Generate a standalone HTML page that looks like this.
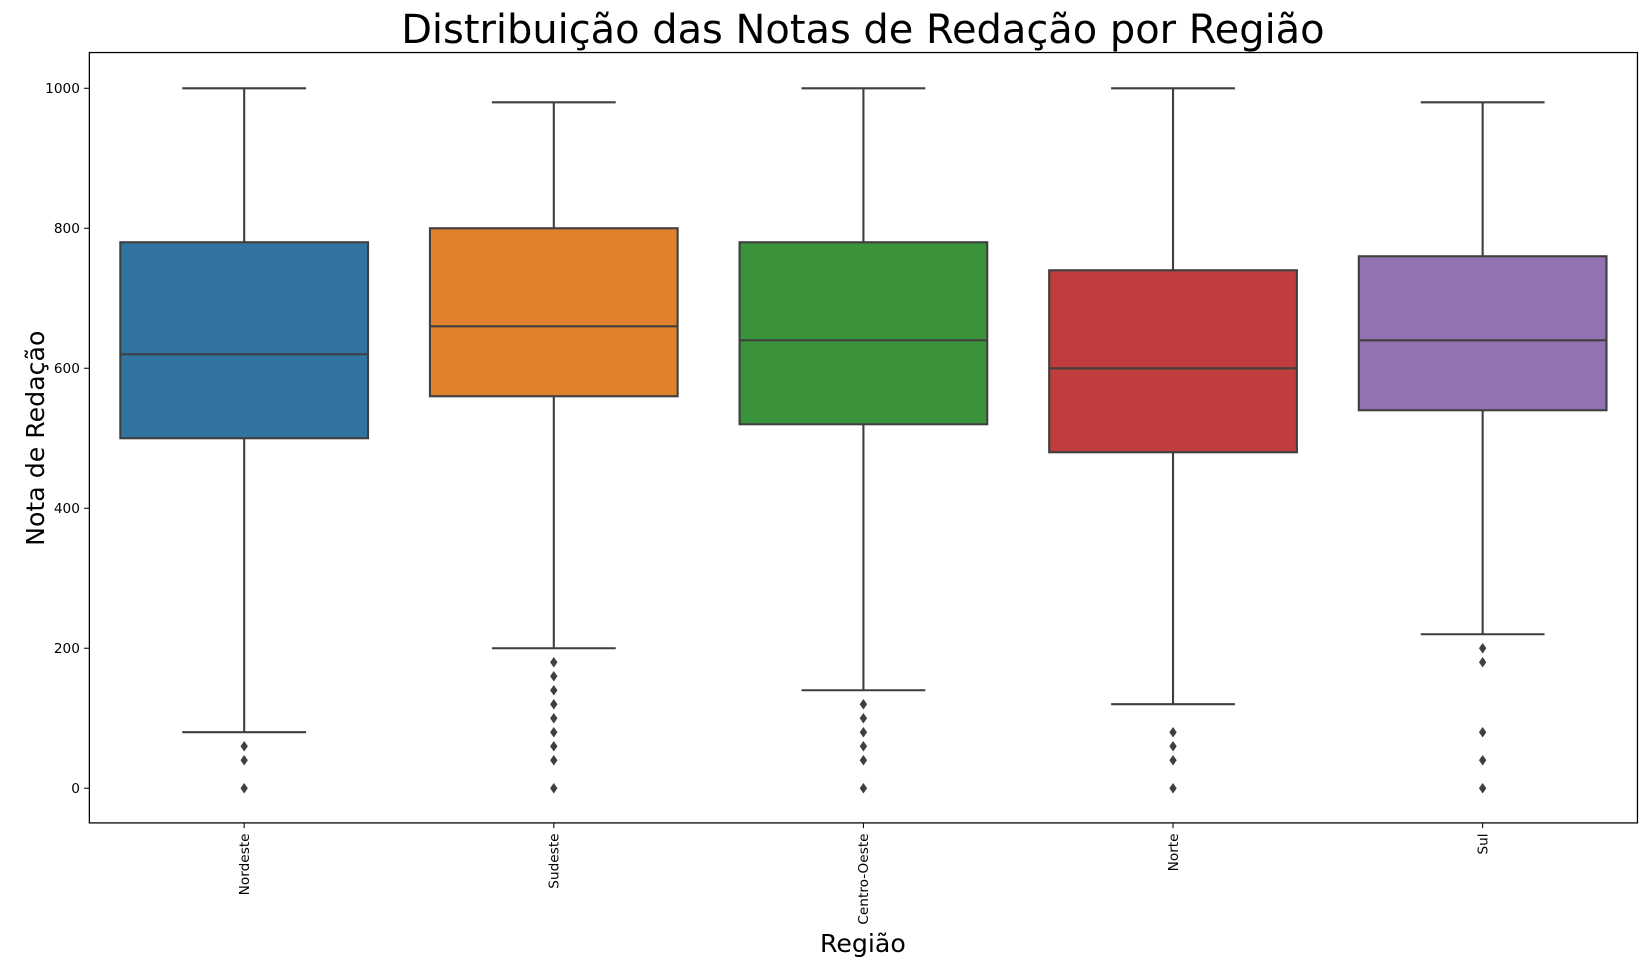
<!DOCTYPE html>
<html><head><meta charset="utf-8"><style>
body{margin:0;background:#fff;}
svg{font-family:"DejaVu Sans","Liberation Sans",sans-serif;display:block;}
</style></head><body>
<svg id="chart" width="1648" height="969" viewBox="0 0 1568 922">
<text x="821" y="41" font-size="38" text-anchor="middle" fill="#000">Distribuição das Notas de Redação por Região</text>
<text x="821" y="906" font-size="24" text-anchor="middle">Região</text>
<text transform="translate(42,417) rotate(-90)" font-size="24" text-anchor="middle">Nota de Redação</text>
<g id="plot"></g>
<rect x="85" y="50" width="1473" height="733" fill="none" stroke="#000" stroke-width="1.2"/>
</svg>
<script>
const categories=["Nordeste","Sudeste","Centro-Oeste","Norte","Sul"];
const q1s=[500,560,520,480,540];
const medians=[620,660,640,600,640];
const q3s=[780,800,780,740,760];
const whiskLow=[80,200,140,120,220];
const whiskHigh=[1000,980,1000,1000,980];
const outliers=[[0,40,60],[0,40,60,80,100,120,140,160,180],[0,40,60,80,100,120],[0,40,60,80],[0,40,80,180,200]];
const colors=["#3274a1","#e1812c","#3a923a","#c03d3e","#9372b2"];
const yTicks=[0,200,400,600,800,1000];
const NS="http://www.w3.org/2000/svg";
const L=85,R=1558;
const y=v=>750-v*0.666;
const band=(R-L)/categories.length;
const x=i=>L+band*(i+0.5);
const g=document.getElementById('plot');
function mk(t,a){const e=document.createElementNS(NS,t);for(const k in a)e.setAttribute(k,a[k]);g.appendChild(e);return e;}
const st="#3f3f3f";
yTicks.forEach(t=>{
 const tk=mk('line',{x1:L-5,x2:L,y1:y(t),y2:y(t),stroke:'#000'});
 
 
 const lb=mk('text',{x:L-9,y:y(t)+4.5,'font-size':13,'text-anchor':'end'});
 lb.textContent=t;
 
 
});
categories.forEach((c,i)=>{
 const cx=x(i),w=band*0.8;
 const tk=mk('line',{x1:cx,x2:cx,y1:783,y2:788,stroke:'#000'});
 
 
 const lb=mk('text',{transform:`translate(${cx+4.5},793) rotate(-90)`,'font-size':13,'text-anchor':'end'});
 lb.textContent=c;
 
 
 const w1=mk('line',{x1:cx,x2:cx,y1:y(whiskLow[i]),y2:y(q1s[i]),stroke:st,'stroke-width':2});
 
 
 const w2=mk('line',{x1:cx,x2:cx,y1:y(q3s[i]),y2:y(whiskHigh[i]),stroke:st,'stroke-width':2});
 
 
 const c1=mk('line',{x1:cx-w/4,x2:cx+w/4,y1:y(whiskLow[i]),y2:y(whiskLow[i]),stroke:st,'stroke-width':2});
 
 
 const c2=mk('line',{x1:cx-w/4,x2:cx+w/4,y1:y(whiskHigh[i]),y2:y(whiskHigh[i]),stroke:st,'stroke-width':2});
 
 
 const b=mk('rect',{x:cx-w/2,y:y(q3s[i]),width:w,height:y(q1s[i])-y(q3s[i]),fill:colors[i],stroke:st,'stroke-width':2});
 
 
 const m=mk('line',{x1:cx-w/2,x2:cx+w/2,y1:y(medians[i]),y2:y(medians[i]),stroke:st,'stroke-width':2});
 
 
 outliers[i].forEach(v=>{
  const yy=y(v);
  const o=mk('polygon',{points:`${cx},${yy-5} ${cx+3.5},${yy} ${cx},${yy+5} ${cx-3.5},${yy}`,fill:st});
  
  
 });
});
</script>
</body></html>
